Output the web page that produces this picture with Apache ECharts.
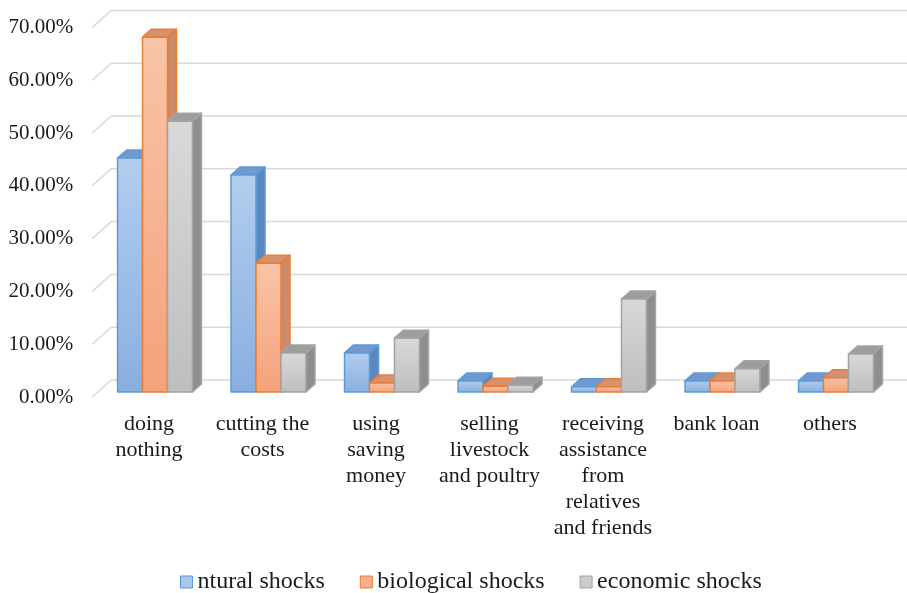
<!DOCTYPE html>
<html><head><meta charset="utf-8">
<script src="https://cdn.jsdelivr.net/npm/echarts@6/dist/echarts.min.js"></script>
<style>html,body{margin:0;padding:0;background:#fff}#c{width:907px;height:593px}</style>
</head><body><div id="c"></div>
<script>
const categories = ['doing\nnothing', 'cutting the\ncosts', 'using\nsaving\nmoney', 'selling\nlivestock\nand poultry', 'receiving\nassistance\nfrom\nrelatives\nand friends', 'bank loan', 'others'];
const seriesNames = ['ntural shocks', 'biological shocks', 'economic shocks'];
const naturalShocks = [0.443, 0.411, 0.074, 0.021, 0.010, 0.021, 0.021];
const biologicalShocks = [0.672, 0.244, 0.017, 0.011, 0.010, 0.021, 0.027];
const economicShocks = [0.513, 0.074, 0.102, 0.013, 0.176, 0.044, 0.072];
const yTicks = [0, 0.1, 0.2, 0.3, 0.4, 0.5, 0.6, 0.7];
const yTickLabels = ['0.00%', '10.00%', '20.00%', '30.00%', '40.00%', '50.00%', '60.00%', '70.00%'];

const seriesValues = [naturalShocks, biologicalShocks, economicShocks];
const palette = [
  {front: ['#b3cdee', '#89afe0'], side: '#5d86bf', top: '#7199cf', border: '#5b9bd5', legend: '#a9c6ec'},
  {front: ['#f9c4a8', '#f4a27a'], side: '#c98b6b', top: '#d49273', border: '#ed7d31', legend: '#f6b08e'},
  {front: ['#d9d9d9', '#bebebe'], side: '#8e8e8e', top: '#9d9d9d', border: '#a3a3a3', legend: '#cccccc'}
];
const FONT = "'Liberation Serif', 'Times New Roman', serif";

function makeBar(sIdx) {
  return function (params, api) {
    const ci = api.value(0), v = api.value(1);
    const p = api.coord([ci, v]);
    const b = api.coord([ci, 0]);
    const band = api.size([1, 0])[0];
    const w = band * 0.22, dx = 9, dy = 8;
    const x0 = p[0] - 1.5 * w + sIdx * w, x1 = x0 + w;
    const yt = p[1], yb = b[1];
    const c = palette[sIdx];
    const st = {stroke: c.border, lineWidth: 1.5, lineJoin: 'round'};
    return {
      type: 'group',
      children: [
        {type: 'polygon', shape: {points: [[x1, yt], [x1 + dx, yt - dy], [x1 + dx, yb - dy], [x1, yb]]}, style: Object.assign({fill: c.side}, st)},
        {type: 'polygon', shape: {points: [[x0, yt], [x0 + dx, yt - dy], [x1 + dx, yt - dy], [x1, yt]]}, style: Object.assign({fill: c.top}, st)},
        {type: 'rect', shape: {x: x0, y: yt, width: w, height: yb - yt},
          style: Object.assign({fill: new echarts.graphic.LinearGradient(0, 0, 0, 1, [{offset: 0, color: c.front[0]}, {offset: 1, color: c.front[1]}])}, st)}
      ]
    };
  };
}

const chart = echarts.init(document.getElementById('c'), null, {renderer: 'canvas'});
const barSeries = seriesNames.map((name, i) => ({
  name: name,
  type: 'custom',
  coordinateSystem: 'cartesian2d',
  xAxisIndex: 0, yAxisIndex: 0,
  itemStyle: {color: palette[i].legend, borderColor: palette[i].border},
  encode: {x: 0, y: 1},
  data: seriesValues[i].map((v, k) => [k, v]),
  renderItem: makeBar(i),
  z: 3
}));

chart.setOption({
  backgroundColor: '#ffffff',
  animation: false,
  grid: [
    {left: 98.25, width: 794.5, top: 22.4, height: 369.6},
    {left: 92.25, width: 794.5, top: 27.4, height: 369.6}
  ],
  xAxis: [
    {type: 'category', gridIndex: 0, data: categories, show: false},
    {type: 'category', gridIndex: 1, data: categories,
      axisLine: {show: false}, axisTick: {show: false},
      axisLabel: {interval: 0, margin: 14, fontFamily: FONT, fontSize: 22, lineHeight: 26, color: '#1a1a1a'}}
  ],
  yAxis: [
    {type: 'value', gridIndex: 0, min: 0, max: 0.7, interval: 0.1, show: false},
    {type: 'value', gridIndex: 1, min: 0, max: 0.7, interval: 0.1,
      axisLine: {show: false}, axisTick: {show: false}, splitLine: {show: false},
      axisLabel: {margin: 19, fontFamily: FONT, fontSize: 21, color: '#1a1a1a',
        formatter: function (v) { const i = yTicks.findIndex(t => Math.abs(t - v) < 1e-9); return i >= 0 ? yTickLabels[i] : ''; }}}
  ],
  legend: {
    left: 175, top: 565,
    itemWidth: 12, itemHeight: 12, itemGap: 35,
    icon: 'rect',
    textStyle: {fontFamily: FONT, fontSize: 24, color: '#1a1a1a'},
    data: seriesNames.map((n, i) => ({name: n, itemStyle: {color: palette[i].legend, borderColor: palette[i].border, borderWidth: 1}}))
  },
  series: [{
    name: 'gridlines',
    type: 'custom',
    coordinateSystem: 'cartesian2d',
    xAxisIndex: 0, yAxisIndex: 0,
    silent: true,
    encode: {x: 0, y: 1},
    data: yTicks.map(v => [0, v]),
    renderItem: function (params, api) {
      const cs = params.coordSys;
      const y = api.coord([0, api.value(1)])[1];
      return {type: 'polyline', shape: {points: [[cs.x - 6, y + 5], [cs.x + 13, y - 12], [api.getWidth(), y - 12]]},
        style: {stroke: '#d9d9d9', lineWidth: 1.5, fill: null}};
    },
    z: 1
  }].concat(barSeries)
});
</script>
</body></html>
